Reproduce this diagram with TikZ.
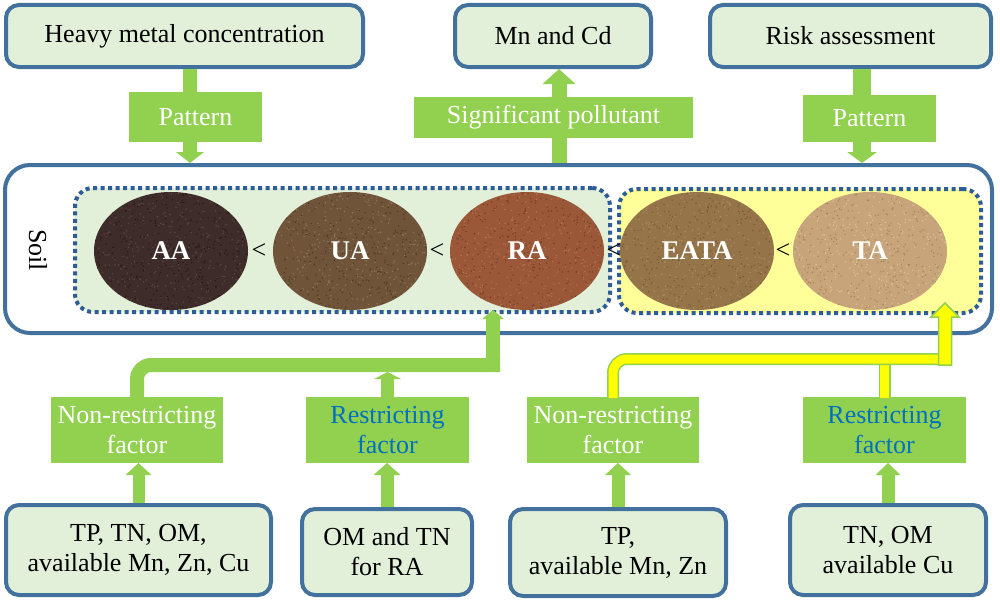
\documentclass[tikz,border=0pt]{standalone}
\usepackage{fontspec}
\setmainfont{Liberation Serif}
\usetikzlibrary{shapes.geometric,arrows.meta,calc}
\definecolor{gr}{HTML}{92D050}
\definecolor{bl}{HTML}{41719C}
\definecolor{dotbl}{HTML}{2E5C96}
\definecolor{lg}{HTML}{E2F0D9}
\definecolor{ly}{HTML}{FFFF99}
\definecolor{yl}{HTML}{FFFF00}
\definecolor{rtxt}{HTML}{0070C0}
\definecolor{aaA}{HTML}{3E2C2A}\definecolor{aaB}{HTML}{5E4640}\definecolor{aaC}{HTML}{261918}
\definecolor{uaA}{HTML}{6F5439}\definecolor{uaB}{HTML}{907455}\definecolor{uaC}{HTML}{4E3A25}
\definecolor{raA}{HTML}{9B5838}\definecolor{raB}{HTML}{B3714F}\definecolor{raC}{HTML}{743F26}
\definecolor{eaA}{HTML}{957449}\definecolor{eaB}{HTML}{AC8B5F}\definecolor{eaC}{HTML}{765A37}
\definecolor{taA}{HTML}{C7A47A}\definecolor{taB}{HTML}{DCC19C}\definecolor{taC}{HTML}{A7865E}
\newcommand{\mysoil}[6]{%
  \node[soilell, fill=#3] (#1) at (#2,251) {};
  \begin{scope}
    \clip (#2,251) ellipse [x radius=77pt, y radius=59pt];
    \foreach \k in {1,...,350} {\fill[#4] ($(#2,251)+({rand*77},{rand*59})$) circle (0.8pt);}
    \foreach \k in {1,...,350} {\fill[#5] ($(#2,251)+({rand*77},{rand*59})$) circle (0.8pt);}
  \end{scope}
  \node[soillab] (#1lab) at (#1) {#6};
}
\begin{document}
\begin{tikzpicture}[x=1pt,y=-1pt,
  every node/.style={font=\fontsize{26}{30}\selectfont, inner sep=0pt, outer sep=0pt},
  bluebox/.style={draw=bl, line width=4pt, fill=lg, rounded corners=13pt, outer sep=2pt, align=center},
  greenbox/.style={fill=gr, text=white, align=center},
  dotbox/.style={draw=dotbl, line width=4pt, dash pattern=on 4pt off 3.5pt, rounded corners=18pt},
  soilell/.style={ellipse, minimum width=154pt, minimum height=118pt},
  soillab/.style={text=white, font=\fontsize{27}{30}\selectfont\bfseries},
  fat/.style={draw=gr, line width=#1},
  yout/.style={draw=gr, line width=12pt},
  yin/.style={draw=yl, line width=9pt},
  yarr/.style={fill=yl, draw=gr, line width=1.5pt, line join=miter}
]
\pgfmathsetseed{7}
\useasboundingbox (0,0) rectangle (1000,602);

% soil frame
\node[draw=bl, line width=4pt, fill=white, rounded corners=25pt,
      minimum width=987pt, minimum height=168pt, outer sep=2pt] (soil) at (498.5,249) {};
\node[rotate=-90] (soiltxt) at (38,250) {Soil};
\node[dotbox, fill=lg, minimum width=535pt, minimum height=124pt] (gbox) at (342.5,250) {};
\node[dotbox, fill=ly, minimum width=362pt, minimum height=124pt] (ybox) at (800,251) {};

\mysoil{aa}{171}{aaA}{aaB}{aaC}{AA}
\mysoil{ua}{350}{uaA}{uaB}{uaC}{UA}
\mysoil{ra}{527}{raA}{raB}{raC}{RA}
\mysoil{eata}{697}{eaA}{eaB}{eaC}{EATA}
\mysoil{ta}{870}{taA}{taB}{taC}{TA}

\node (lt1) at (259,251) {<};
\node (lt2) at (437,251) {<};
\node (lt3) at (614,251) {<};
\node (lt4) at (783,251) {<};

% top row
\node[bluebox, minimum width=357pt, minimum height=62pt] (heavy) at (184.5,36) {Heavy metal concentration};
\node[bluebox, minimum width=196pt, minimum height=62pt] (mncd) at (553,36) {Mn and Cd};
\node[bluebox, minimum width=281pt, minimum height=62pt] (risk) at (850.5,36) {Risk assessment};
\node[greenbox, minimum width=133pt, minimum height=50pt] (pat1) at (195.5,117) {Pattern};
\node[greenbox, minimum width=279pt, minimum height=41pt] (sig) at (553.5,117.5) {Significant pollutant};
\node[greenbox, minimum width=133pt, minimum height=47pt] (pat2) at (869.5,118.5) {Pattern};

\coordinate (ax1) at (190,0);
\coordinate (ax2) at (559,0);
\coordinate (ax3) at (862,0);
\draw[fat=14pt] (heavy.south -| ax1) -- (pat1.north -| ax1);
\draw[fat=14pt, -{Triangle[width=28pt,length=11pt,line width=0pt]}] (pat1.south -| ax1) -- (soil.north -| ax1);
\draw[fat=15pt] (soil.north -| ax2) -- (sig.south -| ax2);
\draw[fat=15pt, -{Triangle[width=33pt,length=15pt,line width=0pt]}] (sig.north -| ax2) -- (mncd.south -| ax2);
\draw[fat=18pt] (risk.south -| ax3) -- (pat2.north -| ax3);
\draw[fat=18pt, -{Triangle[width=30pt,length=11pt,line width=0pt]}] (pat2.south -| ax3) -- (soil.north -| ax3);

% factor boxes
\node[greenbox, minimum width=172pt, minimum height=66pt] (nr1) at (137,430) {Non-restricting\\factor};
\node[greenbox, text=rtxt, minimum width=163pt, minimum height=66pt] (rf1) at (387.5,430) {Restricting\\factor};
\node[greenbox, minimum width=172pt, minimum height=66pt] (nr2) at (613,430) {Non-restricting\\factor};
\node[greenbox, text=rtxt, minimum width=163pt, minimum height=66pt] (rf2) at (884.5,430) {Restricting\\factor};

% bottom boxes
\node[bluebox, minimum width=265pt, minimum height=90pt] (b1) at (138.5,550) {TP, TN, OM,\\available Mn, Zn, Cu};
\node[bluebox, minimum width=170pt, minimum height=86pt] (b2) at (387,552) {OM and TN\\for RA};
\node[bluebox, minimum width=216pt, minimum height=87pt] (b3) at (618,552.5) {TP,\\available Mn, Zn};
\node[bluebox, minimum width=196pt, minimum height=90pt] (b4) at (888,550) {TN, OM\\available Cu};

\draw[fat=12pt, -{Triangle[width=26pt,length=12pt,line width=0pt]}] (b1.north) -- (b1.north |- nr1.south);
\draw[fat=13pt, -{Triangle[width=27pt,length=12pt,line width=0pt]}] (b2.north) -- (b2.north |- rf1.south);
\draw[fat=13pt, -{Triangle[width=26pt,length=12pt,line width=0pt]}] (b3.north) -- (b3.north |- nr2.south);
\draw[fat=13pt, -{Triangle[width=25pt,length=12pt,line width=0pt]}] (b4.north) -- (b4.north |- rf2.south);

% green connector to RA
\coordinate (gx) at (493,365);
\draw[fat=14pt, rounded corners=14pt] (nr1.north) |- ($(gx)+(7,0)$);
\draw[fat=14pt, -{Triangle[width=22pt,length=9pt,line width=0pt]}] ($(gx)+(0,7)$) -- (gx |- ra.south);
\draw[fat=13pt, -{Triangle[width=27pt,length=7pt,line width=0pt]}] (rf1.north) -- ($(rf1.north |- gx)+(0,7)$);

% yellow connector to TA
\coordinate (yx) at (945,359);
\draw[yout] (rf2.north) -- (rf2.north |- yx);
\draw[yin] ([yshift=-1pt]rf2.north) -- (rf2.north |- yx);
\draw[yout, rounded corners=14pt] (nr2.north) |- ($(yx)+(6.5,0)$);
\draw[yin, rounded corners=14pt] ([yshift=-1pt]nr2.north) |- ($(yx)+(6.5,0)$);
\coordinate (yt) at ($(yx |- ta.south)+(0,-7)$);
\filldraw[yarr] ($(yx)+(-6.5,6)$) -- ($(yt)+(-6.5,14)$) -- ($(yt)+(-14,14)$) -- (yt)
   -- ($(yt)+(14,14)$) -- ($(yt)+(6.5,14)$) -- ($(yx)+(6.5,6)$) -- cycle;
\end{tikzpicture}
\end{document}
